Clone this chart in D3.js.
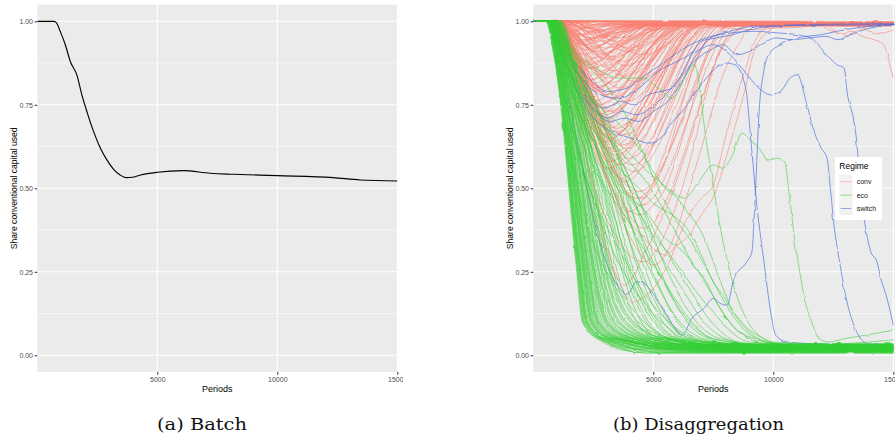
<!DOCTYPE html>
<html><head><meta charset="utf-8">
<script src="https://cdn.jsdelivr.net/npm/d3@7/dist/d3.min.js"></script>
<style>
body{margin:0;background:#fff}
svg{display:block}
</style>
</head><body>
<svg id="chart" width="895" height="436"></svg>
<script>
// ---------------- DATA ----------------
const xTicks = [5000, 10000, 15000];
const yTicks = [0, 0.25, 0.5, 0.75, 1];
const yMinor = [0.125, 0.375, 0.625, 0.875];
const yLabel = "Share conventional capital used";
const xLabel = "Periods";
const captions = ["(a) Batch", "(b) Disaggregation"];
const regimes = ["conv", "eco", "switch"];
const regimeColors = ["#FA8072", "#32CD32", "#4169E1"];

// (a) Batch: aggregated share
const batchPeriods = [0, 700, 800, 960, 1170, 1380, 1650, 1860, 2070, 2350, 2630, 2900, 3180, 3450, 3700, 3950, 4300, 5000, 6080, 7200, 8170, 10000, 12330, 13450, 15000];
const batchShare   = [1, 1, 0.995, 0.969, 0.929, 0.879, 0.839, 0.779, 0.729, 0.669, 0.62, 0.585, 0.557, 0.54, 0.532, 0.533, 0.54, 0.548, 0.553, 0.545, 0.542, 0.538, 0.532, 0.525, 0.522];

// (b) eco runs: period at which each share level is crossed
const ecoLevels = [1, 0.9, 0.75, 0.5, 0.25, 0.1, 0.05];
// [leave1, p0.9, p0.75, p0.5, p0.25, p0.1, p0.05, periodFinal, finalShare]
const ecoFast = [
 [520,850,1140,1480,1810,2040,2650,4200,0.012],[540,870,1170,1510,1850,2090,2730,4400,0.02],
 [560,890,1190,1540,1880,2130,2790,4600,0.008],[580,910,1210,1560,1920,2180,2860,4800,0.025],
 [600,930,1240,1590,1950,2220,2920,4900,0.015],[620,950,1260,1620,1990,2270,2990,5100,0.03],
 [640,970,1280,1650,2020,2320,3060,5200,0.01],[650,990,1300,1680,2060,2370,3130,5400,0.02],
 [670,1000,1320,1700,2100,2420,3200,5500,0.035],[690,1020,1340,1730,2140,2470,3270,5700,0.018],
 [700,1040,1360,1760,2170,2520,3350,5800,0.028],[720,1060,1390,1790,2210,2580,3430,6000,0.012],
 [740,1080,1410,1820,2250,2640,3510,6200,0.022],[760,1100,1430,1850,2300,2700,3600,6400,0.03],
 [780,1120,1460,1880,2340,2760,3690,6600,0.016],[800,1140,1490,1920,2390,2830,3780,6800,0.024],
 [820,1160,1510,1950,2430,2900,3880,7000,0.01],[840,1180,1540,1990,2480,2970,3980,7200,0.032],
 [860,1210,1570,2030,2530,3050,4090,7400,0.02],[880,1230,1600,2070,2580,3130,4200,7600,0.014],
 [900,1260,1640,2110,2640,3210,4320,7800,0.026],[920,1290,1680,2160,2700,3300,4450,8100,0.018],
 [950,1320,1720,2210,2760,3400,4580,8400,0.03],[980,1350,1760,2260,2830,3500,4720,8700,0.022],
 [1010,1390,1810,2320,2900,3620,4880,9000,0.012],[1040,1430,1860,2380,2980,3750,5050,9300,0.028],
 [1080,1470,1920,2450,3060,3890,5230,9700,0.02],[1120,1520,1980,2520,3150,4040,5430,10100,0.016],
 [1160,1570,2040,2600,3250,4200,5650,10500,0.025],[1200,1610,2110,2680,3350,4370,5900,10800,0.03],
 [530,860,1160,1500,1840,2070,2710,4300,0.018],[570,900,1200,1550,1900,2160,2830,4700,0.022],
 [610,940,1250,1610,1970,2250,2960,5000,0.028],[660,980,1310,1690,2080,2400,3160,5450,0.008],
 [710,1050,1370,1770,2190,2550,3390,5900,0.024],[770,1110,1450,1870,2320,2730,3650,6500,0.014],
 [850,1190,1550,2010,2500,3010,4030,7300,0.026],[930,1300,1700,2190,2730,3350,4510,8200,0.01],
 [1050,1450,1890,2410,3020,3820,5140,9500,0.034],[590,920,1230,1580,1940,2210,2900,4850,0.006],
 [680,1010,1330,1720,2120,2450,3240,5600,0.032],[750,1090,1420,1840,2280,2670,3550,6300,0.02],
 [870,1220,1590,2050,2560,3090,4150,7500,0.012],[990,1370,1790,2290,2860,3560,4800,8800,0.016],
 [1140,1550,2010,2560,3200,4120,5550,10300,0.02]
];
const ecoMid = [
 [700,1200,1750,2750,3500,4300,5100,7500,0.02],[800,1350,1900,2900,3800,4700,5600,8000,0.028],
 [650,1150,1700,2850,3700,4500,5300,7800,0.015],[900,1500,2100,3100,4000,5000,5900,8600,0.022],
 [750,1300,1950,3200,4200,5200,6100,9000,0.018],[1000,1600,2300,3400,4400,5400,6300,9300,0.03],
 [700,1250,1850,3000,4100,5100,6000,8800,0.012],[850,1450,2200,3600,4700,5700,6600,9600,0.025],
 [950,1600,2400,3800,5000,6000,6900,10000,0.02],[800,1400,2150,3500,4900,6100,7100,10200,0.016],
 [1100,1800,2600,4000,5300,6400,7400,10600,0.028],[750,1350,2050,3300,4500,5600,6500,9400,0.022],
 [900,1550,2350,3700,5200,6500,7500,10800,0.018],[1000,1700,2500,4200,5600,6800,7800,11000,0.026],
 [650,1200,1800,2950,3900,4800,5700,8300,0.014]
];

// (b) eco runs that wander before collapsing: [period, share]
const ecoSlow = [
 [[0,1],[900,1],[1800,0.85],[2800,0.72],[3800,0.62],[4800,0.55],[5600,0.5],[6300,0.47],[6900,0.52],[7500,0.57],[7900,0.56],[8300,0.6],[8700,0.665],[9100,0.64],[9400,0.62],[9800,0.585],[10200,0.59],[10500,0.57],[10650,0.49],[10900,0.34],[11100,0.25],[11300,0.17],[11600,0.1],[11900,0.05],[12300,0.04],[13000,0.05],[14000,0.062],[15000,0.075]],
 [[0,1],[800,1],[1600,0.92],[2600,0.86],[3600,0.83],[4600,0.83],[5200,0.8],[5800,0.77],[6300,0.83],[6700,0.87],[6900,0.82],[7100,0.7],[7400,0.55],[7800,0.38],[8300,0.22],[8800,0.12],[9400,0.06],[10200,0.035],[15000,0.025]],
 [[0,1],[700,1],[1500,0.85],[2300,0.78],[3000,0.72],[3600,0.6],[4200,0.5],[5000,0.38],[5800,0.28],[6500,0.2],[7200,0.12],[8000,0.06],[9000,0.03],[15000,0.02]],
 [[0,1],[600,1],[1300,0.88],[2000,0.8],[2600,0.74],[3200,0.66],[3900,0.52],[4600,0.4],[5300,0.3],[6200,0.2],[7100,0.1],[8000,0.05],[9500,0.025],[15000,0.015]],
 [[0,1],[800,1],[1600,0.83],[2300,0.7],[3000,0.62],[3700,0.55],[4400,0.5],[5100,0.45],[5800,0.42],[6400,0.38],[7000,0.3],[7500,0.22],[7900,0.18],[8400,0.12],[9000,0.07],[9800,0.04],[15000,0.03]],
 [[0,1],[700,1],[1400,0.8],[2000,0.65],[2600,0.55],[3200,0.48],[3800,0.42],[4500,0.33],[5200,0.25],[5900,0.17],[6600,0.1],[7400,0.05],[8500,0.03],[15000,0.02]],
 [[0,1],[600,1],[1300,0.78],[1900,0.6],[2500,0.47],[3100,0.38],[3700,0.3],[4300,0.22],[5000,0.15],[5800,0.09],[6700,0.05],[8000,0.03],[15000,0.02]],
 [[0,1],[900,1],[1700,0.9],[2500,0.85],[3300,0.78],[4000,0.7],[4600,0.6],[5200,0.5],[5800,0.42],[6500,0.35],[7200,0.26],[7800,0.18],[8500,0.1],[9300,0.05],[10500,0.03],[15000,0.02]],
 [[0,1],[700,1],[1500,0.82],[2200,0.68],[2900,0.58],[3500,0.5],[4100,0.47],[4800,0.42],[5500,0.35],[6100,0.32],[6700,0.27],[7300,0.2],[7800,0.14],[8400,0.08],[9200,0.05],[10000,0.035],[11000,0.03],[13000,0.035],[15000,0.046]],
 [[0,1],[650,1],[1200,0.75],[1700,0.55],[2200,0.4],[2700,0.3],[3300,0.22],[3900,0.16],[4600,0.1],[5400,0.06],[6500,0.035],[15000,0.02]],
 [[0,1],[750,1],[1400,0.87],[2000,0.76],[2700,0.68],[3400,0.63],[4000,0.58],[4700,0.52],[5400,0.44],[6000,0.36],[6600,0.28],[7200,0.22],[7700,0.15],[8300,0.09],[9000,0.05],[10000,0.03],[15000,0.02]],
 [[0,1],[600,1],[1100,0.85],[1600,0.68],[2100,0.55],[2600,0.45],[3100,0.35],[3600,0.27],[4200,0.2],[4800,0.14],[5500,0.09],[6300,0.05],[7500,0.03],[15000,0.02]],
 [[0,1],[800,1],[1500,0.9],[2300,0.8],[3100,0.72],[3800,0.68],[4400,0.62],[5000,0.55],[5500,0.5],[6000,0.47],[6500,0.42],[7000,0.37],[7400,0.3],[7800,0.22],[8200,0.15],[8800,0.09],[9600,0.05],[10600,0.03],[15000,0.02]],
 [[0,1],[700,1],[1300,0.84],[1900,0.73],[2500,0.64],[3100,0.56],[3700,0.5],[4300,0.44],[5000,0.36],[5700,0.3],[6300,0.24],[6900,0.18],[7500,0.13],[8100,0.08],[9000,0.04],[15000,0.02]]
];

// (b) conv runs: [leave period, period of minimum, minimum share, recovery period, share after recovery]
const convDips = [
 [600,1400,0.99,2400,0.998],[700,1900,0.985,3300,0.995],[1200,2600,0.99,4200,0.997],[800,2200,0.98,3800,0.992],
 [1500,3200,0.985,5500,0.996],[650,1700,0.975,3100,0.99],[1000,2800,0.975,4800,0.994],[2000,4000,0.98,6500,0.993],
 [900,2400,0.97,4400,0.99],[1300,3300,0.965,5600,0.996],[750,2000,0.96,3900,0.988],[1100,2900,0.955,5200,0.992],
 [2500,5000,0.975,8000,0.995],[850,2500,0.95,4700,0.99],[1400,3600,0.95,6200,0.994],[700,2100,0.945,4300,0.986],
 [950,2700,0.94,5100,0.992],[600,1900,0.935,4000,0.99],[1200,3400,0.93,6000,0.996],[800,2400,0.925,4900,0.988],
 [1000,3000,0.92,5600,0.993],[700,2200,0.915,4600,0.99],[1600,3900,0.91,6800,0.995],[900,2800,0.905,5400,0.987],
 [650,2000,0.9,4400,0.992],[1100,3300,0.895,6100,0.99],[750,2500,0.89,5100,0.995],[850,3100,0.885,5900,0.99],
 [1300,3700,0.88,6600,0.993],[700,2300,0.875,5000,0.988],[950,2900,0.865,5800,0.994],[600,2100,0.855,4700,0.99],
 [1000,3400,0.85,6400,0.996],[800,2600,0.84,5500,0.99],[1200,3800,0.835,6900,0.993],[650,2400,0.825,5200,0.987],
 [900,3200,0.815,6200,0.992],[700,2700,0.805,5700,0.99],[1100,3600,0.8,6700,0.995],[600,2500,0.79,5400,0.99],
 [850,3000,0.78,6100,0.993],[750,3300,0.77,6500,0.99],[950,3900,0.76,7100,0.996],[650,2800,0.75,6000,0.99],
 [800,3300,0.73,6700,0.994],[700,3000,0.71,6400,0.99],[600,2900,0.69,6200,0.992],[750,3500,0.67,7000,0.995],
 [650,3200,0.65,6700,0.99],[700,3700,0.63,7400,0.993],[600,3400,0.61,7000,0.99],[800,4000,0.59,7800,0.996],
 [650,3600,0.57,7300,0.99],[700,4200,0.55,8000,0.994],[700,3800,0.52,7700,0.99],[650,4300,0.47,8300,0.995],
 [600,4000,0.43,7900,0.99],[750,4600,0.38,8700,0.993],
 [700,3500,0.68,7100,0.993],[650,3900,0.62,7600,0.99],[750,4100,0.57,7900,0.996],[600,3700,0.53,7500,0.99],
 [800,4400,0.49,8400,0.994],[700,3300,0.64,6800,0.99],[650,3000,0.72,6300,0.992],[900,3800,0.66,7400,0.995],
 [700,4500,0.45,8500,0.99],[600,3200,0.58,7000,0.993],[750,2600,0.8,5600,0.99],[700,2400,0.86,5000,0.994],
 [800,2000,0.93,4100,0.99],[900,1800,0.96,3500,0.996],[1000,2300,0.95,4300,0.992],[1400,3000,0.97,5200,0.995],
 [620,1600,0.97,2900,0.995],[680,1800,0.955,3400,0.99],[720,2000,0.94,3700,0.993],[780,2200,0.93,4100,0.988],
 [840,2400,0.92,4500,0.995],[900,2600,0.91,4900,0.99],[960,2800,0.9,5300,0.992],[1020,3000,0.89,5700,0.996],
 [660,2100,0.88,4500,0.99],[720,2300,0.87,4800,0.993],[780,2500,0.86,5200,0.988],[840,2700,0.85,5600,0.995],
 [900,2900,0.84,6000,0.99],[960,3100,0.83,6300,0.992],[620,2200,0.82,4900,0.99],[680,2400,0.81,5300,0.994],
 [740,2600,0.8,5700,0.99],[800,2800,0.79,6000,0.996],[860,3000,0.78,6300,0.99],[920,3200,0.77,6600,0.993],
 [640,2500,0.76,5700,0.99],[700,2700,0.75,6100,0.995],[760,2900,0.74,6400,0.99],[820,3100,0.73,6800,0.992],
 [620,2700,0.72,6100,0.99],[680,2900,0.7,6500,0.994],[740,3100,0.68,6900,0.99],[800,3300,0.66,7200,0.996],
 [620,3000,0.64,6900,0.99],[680,3200,0.62,7200,0.993],[740,3400,0.6,7500,0.99],[600,3100,0.56,7300,0.995],
 [1500,3500,0.94,6000,0.99],[1800,4000,0.92,6800,0.995],[1300,3800,0.87,7200,0.99],[1600,4200,0.82,7700,0.993],
 [2000,4500,0.9,7500,0.996],[1200,2900,0.96,5000,0.99],
 [3000,6000,0.99,9000,0.998],[5000,8000,0.985,11000,0.995],[7000,9500,0.99,12500,0.997],[9000,11000,0.985,13500,0.995],
 [10500,12500,0.99,14500,0.996],[4000,7000,0.98,10000,0.99],[6000,9000,0.975,12000,0.993],[8000,10500,0.98,13000,0.995],
 [3500,5500,0.985,7500,0.99],[6500,8500,0.99,10500,0.996],[11000,13000,0.985,15000,0.99]
];

// (b) conv runs that fall deep or dip late: [period, share]
const convPaths = [
 [[0,1],[700,1],[1500,0.85],[2200,0.6],[2800,0.4],[3400,0.25],[3700,0.2],[4100,0.16],[4500,0.17],[5000,0.2],[5600,0.27],[6400,0.41],[7000,0.47],[7500,0.51],[8000,0.65],[8800,0.85],[9300,0.95],[10000,0.99],[15000,0.997]],
 [[0,1],[800,1],[1500,0.87],[2200,0.7],[3000,0.55],[3600,0.45],[4000,0.4],[4500,0.36],[5000,0.32],[5500,0.3],[6000,0.33],[6500,0.36],[7000,0.42],[7600,0.49],[8100,0.61],[8800,0.79],[9200,0.91],[9800,0.97],[10500,0.99],[15000,0.995]],
 [[0,1],[600,1],[1300,0.85],[2000,0.7],[2700,0.58],[3300,0.5],[3900,0.44],[4500,0.42],[5000,0.45],[5500,0.5],[6000,0.6],[6500,0.72],[7000,0.85],[7400,0.93],[8000,0.98],[9000,0.995],[15000,0.995]],
 [[0,1],[700,1],[1400,0.82],[2100,0.62],[2800,0.45],[3400,0.36],[4000,0.3],[4600,0.28],[5200,0.32],[5700,0.4],[6200,0.5],[6700,0.63],[7100,0.75],[7500,0.86],[8000,0.94],[8700,0.98],[9500,0.995],[15000,0.998]],
 [[0,1],[650,1],[1300,0.9],[2000,0.75],[2700,0.62],[3400,0.55],[4000,0.5],[4500,0.47],[5000,0.5],[5500,0.58],[6000,0.7],[6400,0.8],[6900,0.9],[7500,0.96],[8300,0.99],[15000,0.995]],
 [[0,1],[800,1],[1500,0.86],[2200,0.7],[2900,0.56],[3500,0.44],[4000,0.36],[4500,0.3],[5000,0.27],[5500,0.3],[6000,0.38],[6500,0.5],[7000,0.62],[7400,0.72],[7800,0.82],[8300,0.9],[8800,0.96],[9500,0.99],[15000,0.995]],
 [[0,1],[600,1],[1200,0.85],[1800,0.65],[2400,0.45],[3000,0.32],[3400,0.24],[3800,0.21],[4200,0.24],[4600,0.3],[5100,0.37],[5600,0.45],[6100,0.55],[6600,0.66],[7100,0.78],[7600,0.88],[8200,0.95],[9000,0.99],[15000,0.995]],
 [[0,1],[11800,0.995],[12300,0.975],[12800,0.965],[13300,0.97],[13700,0.955],[14200,0.945],[14600,0.93],[14750,0.9],[14850,0.87],[15000,0.83]],
 [[0,1],[12000,1],[12600,0.97],[13100,0.96],[13600,0.975],[14100,0.985],[15000,0.99]],
 [[0,1],[13500,0.995],[14000,0.97],[14500,0.965],[15000,0.975]]
];

// (b) switch runs: [period, share]
const switchPaths = [
 [[0,1],[600,1],[1000,0.93],[1400,0.9],[1800,0.85],[2200,0.8],[2600,0.75],[3000,0.74],[3600,0.76],[4200,0.75],[4800,0.78],[5300,0.79],[5800,0.8],[6300,0.86],[6600,0.9],[7000,0.94],[7600,0.95],[8300,0.96],[9000,0.975],[10000,0.985],[11000,0.99],[15000,0.993]],
 [[0,1],[700,1],[1300,0.88],[1900,0.8],[2500,0.74],[3100,0.71],[3700,0.73],[4300,0.72],[4900,0.74],[5500,0.78],[6100,0.83],[6700,0.88],[7300,0.91],[7900,0.93],[8500,0.9],[9000,0.91],[9500,0.93],[10100,0.95],[10800,0.945],[11500,0.95],[12200,0.955],[12700,0.945],[13200,0.96],[13800,0.975],[14400,0.985],[15000,0.99]],
 [[0,1],[650,1],[1200,0.9],[1800,0.8],[2400,0.72],[3000,0.68],[3600,0.66],[4300,0.645],[4800,0.635],[5300,0.65],[5700,0.69],[6200,0.73],[6700,0.78],[7100,0.82],[7600,0.86],[8000,0.875],[8400,0.87],[8850,0.8],[9060,0.65],[9270,0.48],[9610,0.28],[9890,0.13],[10100,0.06],[10570,0.04],[11500,0.035],[15000,0.03]],
 [[0,1],[600,1],[1100,0.87],[1600,0.72],[2000,0.58],[2500,0.41],[2800,0.33],[3200,0.25],[3600,0.2],[3900,0.18],[4300,0.22],[4700,0.21],[5100,0.17],[5500,0.13],[5900,0.08],[6200,0.06],[6600,0.11],[7100,0.14],[7500,0.17],[7800,0.155],[8070,0.15],[8360,0.23],[8900,0.28],[9110,0.31],[9200,0.41],[9270,0.51],[9400,0.72],[9600,0.85],[9800,0.9],[10300,0.93],[11000,0.95],[12000,0.96],[13000,0.975],[14000,0.985],[15000,0.99]],
 [[0,1],[700,1],[1300,0.9],[2000,0.83],[2800,0.78],[3600,0.77],[4400,0.8],[5200,0.85],[6000,0.88],[6800,0.91],[7500,0.93],[8200,0.9],[8800,0.85],[9400,0.8],[9900,0.78],[10300,0.79],[10700,0.83],[11000,0.84],[11400,0.75],[11700,0.67],[12000,0.62],[12240,0.59],[12390,0.49],[12530,0.39],[12810,0.26],[13070,0.16],[13360,0.09],[13780,0.04],[14200,0.03],[15000,0.03]],
 [[0,1],[800,1],[1500,0.9],[2300,0.83],[3100,0.79],[3900,0.8],[4700,0.84],[5500,0.88],[6300,0.92],[7200,0.95],[8200,0.965],[9200,0.97],[10200,0.965],[11000,0.96],[11560,0.95],[12110,0.91],[12650,0.87],[12950,0.86],[13070,0.79],[13360,0.7],[13490,0.63],[13640,0.48],[13780,0.41],[14060,0.31],[14320,0.28],[14480,0.23],[14740,0.17],[15000,0.09]],
 [[0,1],[650,1],[1200,0.88],[1700,0.8],[2200,0.76],[2700,0.72],[3200,0.7],[3800,0.71],[4400,0.7],[5000,0.73],[5600,0.76],[6200,0.82],[6800,0.9],[7400,0.95],[8200,0.97],[9200,0.985],[15000,0.99]]
];

// ---------------- DRAW ----------------
const W = 895, H = 436;
const SANS = '"Liberation Sans", Arial, Helvetica, sans-serif';
const SERIF = '"DejaVu Serif", "Liberation Serif", serif';
const svg = d3.select("#chart");
svg.append("rect").attr("width", W).attr("height", H).attr("fill", "#fff");
const defs = svg.append("defs");

// smooth wobble texture for the simulated runs (visual only)
[["roughA", 3], ["roughB", 11], ["roughC", 23]].forEach(([id, seed]) => {
  const f = defs.append("filter").attr("id", id).attr("filterUnits", "userSpaceOnUse")
    .attr("x", 525).attr("y", 0).attr("width", 375).attr("height", 380);
  f.append("feTurbulence").attr("type", "fractalNoise").attr("baseFrequency", 0.1)
    .attr("numOctaves", 2).attr("seed", seed).attr("result", "n");
  f.append("feDisplacementMap").attr("in", "SourceGraphic").attr("in2", "n").attr("scale", 2.4)
    .attr("xChannelSelector", "R").attr("yChannelSelector", "G");
});

const PT = 4.6, PB = 372;
const y = d3.scaleLinear().domain([0, 1]).range([355.3, 21.3]);

function makePanel(id, x0, x1, panelRight, labelClipRight, ytitleX) {
  const x = d3.scaleLinear().domain([0, 15000]).range([x0, x1]);
  const g = svg.append("g");
  g.append("rect").attr("x", x0).attr("y", PT).attr("width", panelRight - x0).attr("height", PB - PT).attr("fill", "#EBEBEB");
  g.selectAll(".ymin").data(yMinor).enter().append("line")
    .attr("x1", x0).attr("x2", panelRight).attr("y1", d => y(d)).attr("y2", d => y(d))
    .attr("stroke", "#fff").attr("stroke-width", 0.55);
  g.selectAll(".ymaj").data(yTicks).enter().append("line")
    .attr("x1", x0).attr("x2", panelRight).attr("y1", d => y(d)).attr("y2", d => y(d))
    .attr("stroke", "#fff").attr("stroke-width", 1.1);
  g.selectAll(".xmaj").data(xTicks).enter().append("line")
    .attr("x1", d => x(d)).attr("x2", d => x(d)).attr("y1", PT).attr("y2", PB)
    .attr("stroke", "#fff").attr("stroke-width", 1.1);

  defs.append("clipPath").attr("id", "clip" + id).append("rect")
    .attr("x", x0).attr("y", PT).attr("width", panelRight - x0).attr("height", PB - PT);
  defs.append("clipPath").attr("id", "lclip" + id).append("rect")
    .attr("x", 0).attr("y", 0).attr("width", labelClipRight).attr("height", H);

  const plot = g.append("g").attr("clip-path", `url(#clip${id})`);

  const ax = svg.append("g").attr("clip-path", `url(#lclip${id})`);
  const yAxis = ax.append("g").attr("transform", `translate(${x0},0)`)
    .call(d3.axisLeft(y).tickValues(yTicks).tickFormat(d3.format(".2f")).tickSize(2.7).tickPadding(1.6));
  const xAxis = ax.append("g").attr("transform", `translate(0,${PB})`)
    .call(d3.axisBottom(x).tickValues(xTicks).tickFormat(d3.format("d")).tickSize(2.7).tickPadding(2.4));
  [yAxis, xAxis].forEach(a => {
    a.select(".domain").remove();
    a.selectAll("line").attr("stroke", "#333").attr("stroke-width", 1);
    a.selectAll("text").attr("fill", "#4D4D4D").attr("font-size", 7).style("font-family", SANS);
  });

  svg.append("text").attr("x", (x0 + x1) / 2).attr("y", 392).attr("text-anchor", "middle")
    .attr("font-size", 9).attr("fill", "#000").style("font-family", SANS).text(xLabel);
  svg.append("text").attr("transform", `translate(${ytitleX},${(PT + PB) / 2}) rotate(-90)`)
    .attr("text-anchor", "middle").attr("font-size", 8.6).attr("fill", "#000").style("font-family", SANS).text(yLabel);
  return {x, plot};
}

// Left panel
const L = makePanel("a", 37.3, 397.3, 397.6, 403, 16.5);
const batch = batchPeriods.map((p, i) => [p, batchShare[i]]);
L.plot.append("path").datum(batch)
  .attr("d", d3.line().x(d => L.x(d[0])).y(d => y(d[1])).curve(d3.curveMonotoneX))
  .attr("fill", "none").attr("stroke", "#000").attr("stroke-width", 1.15);

// Right panel
const R = makePanel("b", 533.3, 893.3, 895, 895, 513);
const lineR = d3.line().x(d => R.x(d[0])).y(d => y(d[1])).curve(d3.curveMonotoneX);

const fromLevels = r => {
  const pts = [[0, 1]];
  ecoLevels.forEach((lv, i) => pts.push([r[i], lv]));
  pts.push([r[7], r[8]]); pts.push([15000, r[8]]);
  return pts;
};
const convSeries = convDips.map(r => [[0, 1], [r[0], 1], [r[1], r[2]], [r[3], r[4]], [15000, r[4]]])
  .concat(convPaths);
const ecoSeries = ecoFast.map(fromLevels).concat(ecoMid.map(fromLevels)).concat(ecoSlow);

// drawing order: conv, switch, eco (eco ends up on top at the shared start)
const groups = [
  {series: convSeries, color: regimeColors[0], f: "roughA", op: 0.58},
  {series: switchPaths, color: regimeColors[2], f: "roughC", op: 0.65},
  {series: ecoSeries, color: regimeColors[1], f: "roughB", op: 0.55}
];
groups.forEach(gr => {
  R.plot.append("g").attr("filter", `url(#${gr.f})`)
    .selectAll("path").data(gr.series).enter().append("path")
    .attr("d", lineR).attr("fill", "none").attr("stroke", gr.color)
    .attr("stroke-width", 1).attr("stroke-opacity", gr.op).attr("stroke-linejoin", "round");
});

// Legend
const lg = svg.append("g");
lg.append("rect").attr("x", 835).attr("y", 157).attr("width", 47).attr("height", 63).attr("fill", "#fff");
lg.append("text").attr("x", 839.3).attr("y", 168.7).attr("font-size", 8.5).attr("fill", "#000").style("font-family", SANS).text("Regime");
regimes.forEach((r, i) => {
  const ky = 175 + i * 13.4;
  lg.append("rect").attr("x", 839.3).attr("y", ky).attr("width", 13.4).attr("height", 13.4).attr("fill", "#F2F2F2");
  lg.append("line").attr("x1", 840.6).attr("x2", 851.4).attr("y1", ky + 6.7).attr("y2", ky + 6.7)
    .attr("stroke", regimeColors[i]).attr("stroke-opacity", 0.55).attr("stroke-width", 1);
  lg.append("text").attr("x", 856.7).attr("y", ky + 9.2).attr("font-size", 7).attr("fill", "#1A1A1A").style("font-family", SANS).text(r);
});

// Captions
[[202, captions[0], 90], [698.5, captions[1], 171]].forEach(c => {
  svg.append("text").attr("x", c[0]).attr("y", 429.5).attr("text-anchor", "middle")
    .style("font-family", SERIF).attr("font-size", 16.5)
    .attr("fill", "#111").attr("textLength", c[2]).attr("lengthAdjust", "spacingAndGlyphs").text(c[1]);
});
</script>
</body></html>
